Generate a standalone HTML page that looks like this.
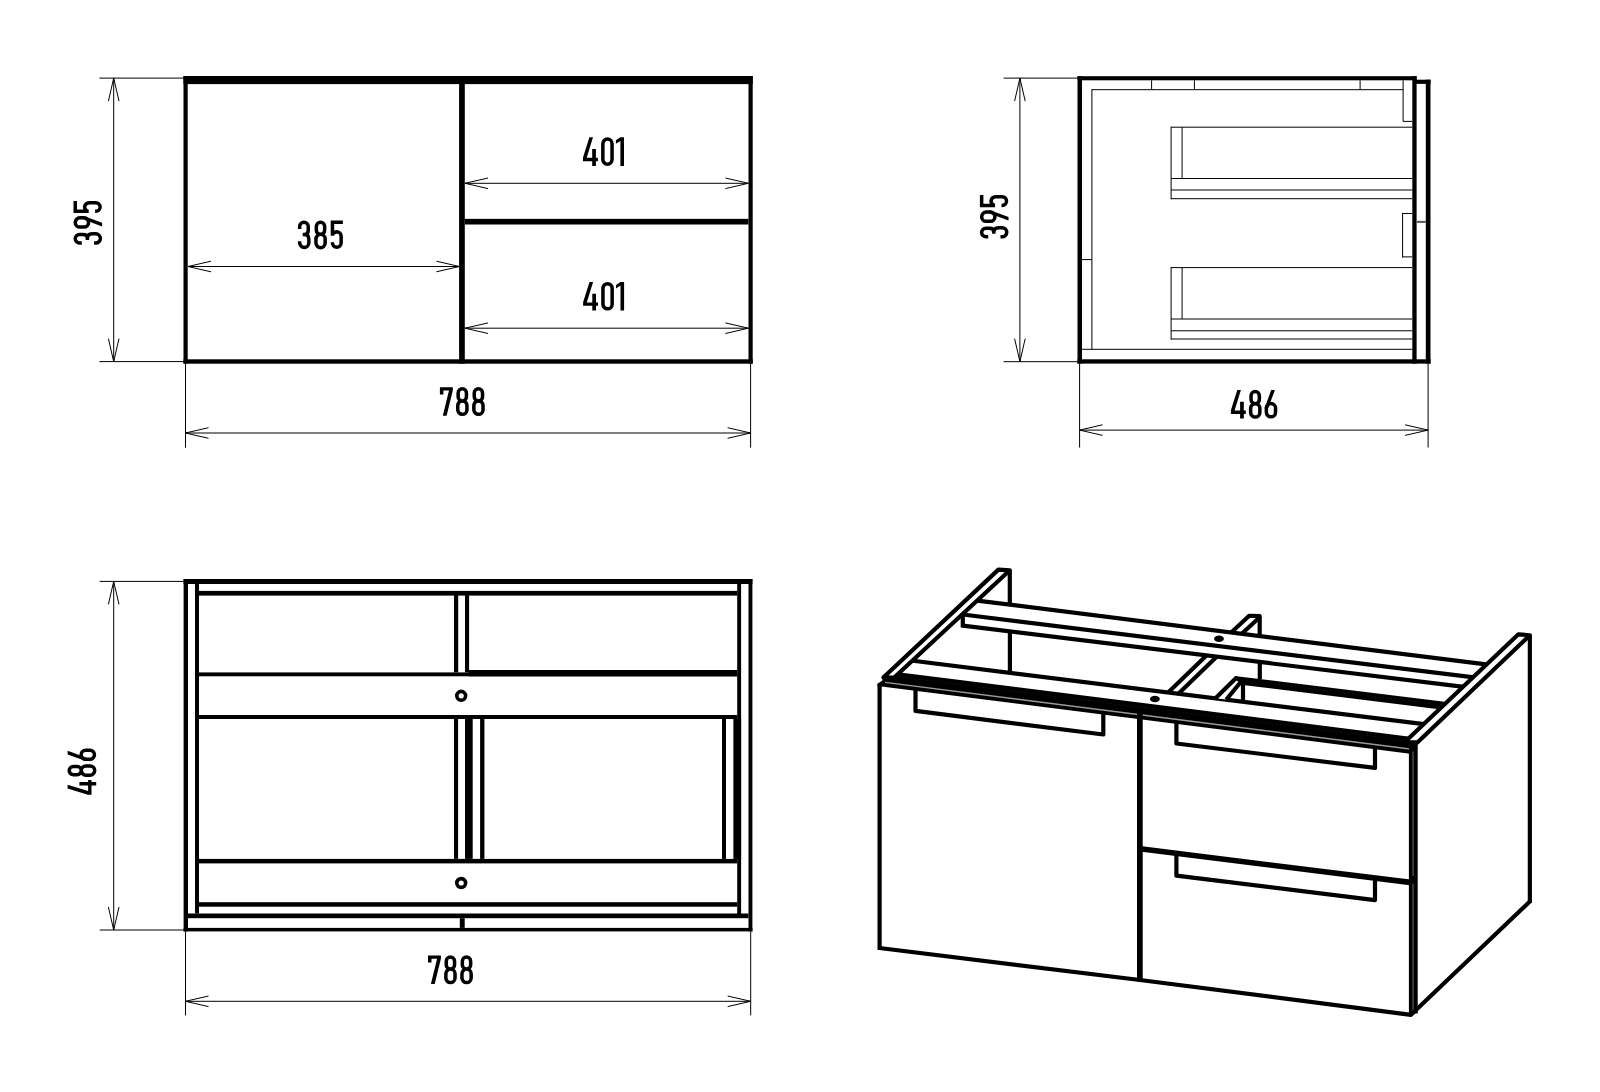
<!DOCTYPE html><html><head><meta charset="utf-8"><style>html,body{margin:0;padding:0;background:#fff;}body{width:1600px;height:1092px;overflow:hidden;font-family:"Liberation Sans",sans-serif;}svg{display:block;}</style></head><body>
<svg width="1600" height="1092" viewBox="0 0 1600 1092">
<rect width="1600" height="1092" fill="#fff"/>
<rect x="183.50" y="76.00" width="4.20" height="287.60" fill="#000"/>
<rect x="748.50" y="76.00" width="4.20" height="287.60" fill="#000"/>
<rect x="183.50" y="76.00" width="569.20" height="8.10" fill="#000"/>
<rect x="183.50" y="359.30" width="569.20" height="4.40" fill="#000"/>
<rect x="459.10" y="76.00" width="5.70" height="287.60" fill="#000"/>
<rect x="464.80" y="218.85" width="283.70" height="5.65" fill="#000"/>
<line x1="99.40" y1="78.10" x2="184.00" y2="78.10" stroke="#000" stroke-width="1.0" />
<line x1="99.40" y1="361.60" x2="184.00" y2="361.60" stroke="#000" stroke-width="1.0" />
<line x1="113.70" y1="78.10" x2="113.70" y2="361.60" stroke="#000" stroke-width="1.0" />
<path d="M119.00,101.10 L113.70,78.10 L108.40,101.10" stroke="#000" stroke-width="1.0" fill="none" stroke-linejoin="miter"/>
<path d="M108.40,338.60 L113.70,361.60 L119.00,338.60" stroke="#000" stroke-width="1.0" fill="none" stroke-linejoin="miter"/>
<line x1="185.50" y1="363.50" x2="185.50" y2="447.70" stroke="#000" stroke-width="1.0" />
<line x1="750.60" y1="363.50" x2="750.60" y2="447.70" stroke="#000" stroke-width="1.0" />
<line x1="185.50" y1="433.00" x2="750.60" y2="433.00" stroke="#000" stroke-width="1.0" />
<path d="M208.50,427.70 L185.50,433.00 L208.50,438.30" stroke="#000" stroke-width="1.0" fill="none" stroke-linejoin="miter"/>
<path d="M727.60,438.30 L750.60,433.00 L727.60,427.70" stroke="#000" stroke-width="1.0" fill="none" stroke-linejoin="miter"/>
<line x1="188.00" y1="266.50" x2="459.40" y2="266.50" stroke="#000" stroke-width="1.0" />
<path d="M211.00,261.20 L188.00,266.50 L211.00,271.80" stroke="#000" stroke-width="1.0" fill="none" stroke-linejoin="miter"/>
<path d="M436.40,271.80 L459.40,266.50 L436.40,261.20" stroke="#000" stroke-width="1.0" fill="none" stroke-linejoin="miter"/>
<line x1="465.00" y1="183.30" x2="748.40" y2="183.30" stroke="#000" stroke-width="1.0" />
<path d="M488.00,178.00 L465.00,183.30 L488.00,188.60" stroke="#000" stroke-width="1.0" fill="none" stroke-linejoin="miter"/>
<path d="M725.40,188.60 L748.40,183.30 L725.40,178.00" stroke="#000" stroke-width="1.0" fill="none" stroke-linejoin="miter"/>
<line x1="465.00" y1="328.20" x2="748.40" y2="328.20" stroke="#000" stroke-width="1.0" />
<path d="M488.00,322.90 L465.00,328.20 L488.00,333.50" stroke="#000" stroke-width="1.0" fill="none" stroke-linejoin="miter"/>
<path d="M725.40,333.50 L748.40,328.20 L725.40,322.90" stroke="#000" stroke-width="1.0" fill="none" stroke-linejoin="miter"/>
<g transform="translate(73.50,244.80) rotate(-90)">
<g transform="translate(0.00,0)"><path d="M1.75,8.3 V6.05 A4.3,4.3 0 0 1 10.35,6.05 V9.6 Q10.35,13.9 6.3,13.9 H4.8 M4.8,13.9 H6.3 Q10.95,13.9 10.95,18.6 V22.25 A4.6,4.6 0 0 1 1.75,22.25 V20.6" fill="none" stroke="#000" stroke-width="3.5"/></g>
<g transform="translate(16.00,0)"><g transform="rotate(180 6.35 14.3)"><path d="M1.75,18.15 A4.6,4.6 0 0 1 10.95,18.15 V22.25 A4.6,4.6 0 0 1 1.75,22.25 Z" fill="none" stroke="#000" stroke-width="3.5"/><path d="M6.6,0 L10.3,0 L3.5,18.3 L0,18.3 Z" fill="#000"/></g></g>
<g transform="translate(31.70,0)"><path d="M12.2,1.75 H1.75 V15.2 M1.75,14.2 C2.8,12.0 4.4,11.1 6.35,11.1 A4.6,4.6 0 0 1 10.45,15.7 V22.25 A4.35,4.35 0 0 1 1.75,22.25 V21.6" fill="none" stroke="#000" stroke-width="3.5"/></g>
</g>
<g transform="translate(297.90,220.60)"><path d="M1.75,8.3 V6.05 A4.3,4.3 0 0 1 10.35,6.05 V9.6 Q10.35,13.9 6.3,13.9 H4.8 M4.8,13.9 H6.3 Q10.95,13.9 10.95,18.6 V22.25 A4.6,4.6 0 0 1 1.75,22.25 V20.6" fill="none" stroke="#000" stroke-width="3.5"/></g>
<g transform="translate(314.20,220.60)"><path d="M2.15,5.75 A4.15,4.15 0 0 1 10.45,5.75 V9.55 A4.15,4.15 0 0 1 2.15,9.55 Z M1.75,18.3 A4.6,4.6 0 0 1 10.95,18.3 V22.5 A4.6,4.6 0 0 1 1.75,22.5 Z" fill="none" stroke="#000" stroke-width="3.5"/></g>
<g transform="translate(330.70,220.60)"><path d="M12.2,1.75 H1.75 V15.2 M1.75,14.2 C2.8,12.0 4.4,11.1 6.35,11.1 A4.6,4.6 0 0 1 10.45,15.7 V22.25 A4.35,4.35 0 0 1 1.75,22.25 V21.6" fill="none" stroke="#000" stroke-width="3.5"/></g>
<g transform="translate(583.00,137.30)"><path d="M6.4,0 L10.0,0 L3.7,20.5 L9.2,20.5 L9.2,11.8 L12.9,11.8 L12.9,20.5 L14.9,20.5 L14.9,23.9 L12.9,23.9 L12.9,28.6 L9.2,28.6 L9.2,23.9 L0,23.9 L0,20.3 Z" fill="#000"/></g>
<g transform="translate(601.10,137.30)"><path d="M1.75,6.35 A4.6,4.6 0 0 1 10.95,6.35 V22.25 A4.6,4.6 0 0 1 1.75,22.25 Z" fill="none" stroke="#000" stroke-width="3.5"/></g>
<g transform="translate(615.90,137.30)"><path d="M0,3 L4.5,0 L8.1,0 L8.1,28.6 L4.5,28.6 L4.5,3.7 L0,6.5 Z" fill="#000"/></g>
<g transform="translate(583.10,281.90)"><path d="M6.4,0 L10.0,0 L3.7,20.5 L9.2,20.5 L9.2,11.8 L12.9,11.8 L12.9,20.5 L14.9,20.5 L14.9,23.9 L12.9,23.9 L12.9,28.6 L9.2,28.6 L9.2,23.9 L0,23.9 L0,20.3 Z" fill="#000"/></g>
<g transform="translate(601.20,281.90)"><path d="M1.75,6.35 A4.6,4.6 0 0 1 10.95,6.35 V22.25 A4.6,4.6 0 0 1 1.75,22.25 Z" fill="none" stroke="#000" stroke-width="3.5"/></g>
<g transform="translate(616.00,281.90)"><path d="M0,3 L4.5,0 L8.1,0 L8.1,28.6 L4.5,28.6 L4.5,3.7 L0,6.5 Z" fill="#000"/></g>
<g transform="translate(439.90,387.20)"><path d="M0,0 L12.9,0 L12.9,3.4 L6.7,28.6 L2.9,28.6 L9.1,3.4 L3.5,3.4 L3.5,7.2 L0,7.2 Z" fill="#000"/></g>
<g transform="translate(456.00,387.20)"><path d="M2.15,5.75 A4.15,4.15 0 0 1 10.45,5.75 V9.55 A4.15,4.15 0 0 1 2.15,9.55 Z M1.75,18.3 A4.6,4.6 0 0 1 10.95,18.3 V22.5 A4.6,4.6 0 0 1 1.75,22.5 Z" fill="none" stroke="#000" stroke-width="3.5"/></g>
<g transform="translate(472.10,387.20)"><path d="M2.15,5.75 A4.15,4.15 0 0 1 10.45,5.75 V9.55 A4.15,4.15 0 0 1 2.15,9.55 Z M1.75,18.3 A4.6,4.6 0 0 1 10.95,18.3 V22.5 A4.6,4.6 0 0 1 1.75,22.5 Z" fill="none" stroke="#000" stroke-width="3.5"/></g>
<rect x="1077.50" y="76.20" width="4.50" height="287.40" fill="#000"/>
<rect x="1077.50" y="76.20" width="339.10" height="4.10" fill="#000"/>
<rect x="1077.50" y="359.30" width="353.00" height="4.30" fill="#000"/>
<rect x="1412.30" y="76.20" width="4.30" height="287.40" fill="#000"/>
<rect x="1414.50" y="79.70" width="16.00" height="4.20" fill="#000"/>
<rect x="1425.80" y="79.70" width="4.70" height="283.90" fill="#000"/>
<line x1="1416.60" y1="221.90" x2="1425.90" y2="221.90" stroke="#5e5e5e" stroke-width="2.1" />
<line x1="1091.90" y1="89.70" x2="1403.10" y2="89.70" stroke="#000" stroke-width="1.0" />
<line x1="1091.90" y1="89.10" x2="1091.90" y2="349.30" stroke="#000" stroke-width="1.0" />
<line x1="1151.60" y1="80.30" x2="1151.60" y2="89.70" stroke="#000" stroke-width="1.0" />
<line x1="1194.40" y1="80.30" x2="1194.40" y2="89.70" stroke="#000" stroke-width="1.0" />
<line x1="1360.10" y1="80.30" x2="1360.10" y2="89.70" stroke="#000" stroke-width="1.0" />
<line x1="1403.10" y1="80.30" x2="1403.10" y2="121.40" stroke="#000" stroke-width="1.0" />
<line x1="1403.10" y1="121.40" x2="1412.30" y2="121.40" stroke="#000" stroke-width="1.0" />
<line x1="1171.10" y1="127.20" x2="1412.30" y2="127.20" stroke="#000" stroke-width="1.0" />
<line x1="1171.10" y1="126.60" x2="1171.10" y2="199.30" stroke="#000" stroke-width="1.0" />
<line x1="1182.10" y1="127.20" x2="1182.10" y2="178.50" stroke="#000" stroke-width="1.0" />
<line x1="1171.10" y1="178.50" x2="1412.30" y2="178.50" stroke="#000" stroke-width="1.0" />
<line x1="1171.10" y1="190.00" x2="1412.30" y2="190.00" stroke="#000" stroke-width="1.0" />
<line x1="1171.10" y1="198.70" x2="1412.30" y2="198.70" stroke="#000" stroke-width="1.0" />
<line x1="1171.10" y1="267.60" x2="1412.30" y2="267.60" stroke="#000" stroke-width="1.0" />
<line x1="1171.10" y1="267.00" x2="1171.10" y2="339.60" stroke="#000" stroke-width="1.0" />
<line x1="1182.10" y1="267.60" x2="1182.10" y2="319.00" stroke="#000" stroke-width="1.0" />
<line x1="1171.10" y1="319.00" x2="1412.30" y2="319.00" stroke="#000" stroke-width="1.0" />
<line x1="1171.10" y1="330.80" x2="1412.30" y2="330.80" stroke="#000" stroke-width="1.0" />
<line x1="1171.10" y1="339.00" x2="1412.30" y2="339.00" stroke="#000" stroke-width="1.0" />
<line x1="1402.60" y1="213.50" x2="1412.30" y2="213.50" stroke="#000" stroke-width="1.0" />
<line x1="1402.60" y1="256.90" x2="1412.30" y2="256.90" stroke="#000" stroke-width="1.0" />
<line x1="1402.60" y1="212.90" x2="1402.60" y2="257.50" stroke="#000" stroke-width="1.0" />
<line x1="1082.00" y1="349.30" x2="1412.30" y2="349.30" stroke="#000" stroke-width="1.0" />
<line x1="1082.00" y1="259.60" x2="1091.90" y2="259.60" stroke="#000" stroke-width="1.0" />
<line x1="1003.60" y1="78.10" x2="1077.50" y2="78.10" stroke="#000" stroke-width="1.0" />
<line x1="1003.60" y1="361.70" x2="1077.50" y2="361.70" stroke="#000" stroke-width="1.0" />
<line x1="1019.90" y1="78.10" x2="1019.90" y2="361.70" stroke="#000" stroke-width="1.0" />
<path d="M1025.20,101.10 L1019.90,78.10 L1014.60,101.10" stroke="#000" stroke-width="1.0" fill="none" stroke-linejoin="miter"/>
<path d="M1014.60,338.70 L1019.90,361.70 L1025.20,338.70" stroke="#000" stroke-width="1.0" fill="none" stroke-linejoin="miter"/>
<line x1="1079.60" y1="363.60" x2="1079.60" y2="447.50" stroke="#000" stroke-width="1.0" />
<line x1="1428.10" y1="363.60" x2="1428.10" y2="447.50" stroke="#000" stroke-width="1.0" />
<line x1="1079.60" y1="430.10" x2="1428.10" y2="430.10" stroke="#000" stroke-width="1.0" />
<path d="M1102.60,424.80 L1079.60,430.10 L1102.60,435.40" stroke="#000" stroke-width="1.0" fill="none" stroke-linejoin="miter"/>
<path d="M1405.10,435.40 L1428.10,430.10 L1405.10,424.80" stroke="#000" stroke-width="1.0" fill="none" stroke-linejoin="miter"/>
<g transform="translate(979.90,238.60) rotate(-90)">
<g transform="translate(0.00,0)"><path d="M1.75,8.3 V6.05 A4.3,4.3 0 0 1 10.35,6.05 V9.6 Q10.35,13.9 6.3,13.9 H4.8 M4.8,13.9 H6.3 Q10.95,13.9 10.95,18.6 V22.25 A4.6,4.6 0 0 1 1.75,22.25 V20.6" fill="none" stroke="#000" stroke-width="3.5"/></g>
<g transform="translate(15.60,0)"><g transform="rotate(180 6.35 14.3)"><path d="M1.75,18.15 A4.6,4.6 0 0 1 10.95,18.15 V22.25 A4.6,4.6 0 0 1 1.75,22.25 Z" fill="none" stroke="#000" stroke-width="3.5"/><path d="M6.6,0 L10.3,0 L3.5,18.3 L0,18.3 Z" fill="#000"/></g></g>
<g transform="translate(31.40,0)"><path d="M12.2,1.75 H1.75 V15.2 M1.75,14.2 C2.8,12.0 4.4,11.1 6.35,11.1 A4.6,4.6 0 0 1 10.45,15.7 V22.25 A4.35,4.35 0 0 1 1.75,22.25 V21.6" fill="none" stroke="#000" stroke-width="3.5"/></g>
</g>
<g transform="translate(1230.90,390.00)"><path d="M6.4,0 L10.0,0 L3.7,20.5 L9.2,20.5 L9.2,11.8 L12.9,11.8 L12.9,20.5 L14.9,20.5 L14.9,23.9 L12.9,23.9 L12.9,28.6 L9.2,28.6 L9.2,23.9 L0,23.9 L0,20.3 Z" fill="#000"/></g>
<g transform="translate(1248.90,390.00)"><path d="M2.15,5.75 A4.15,4.15 0 0 1 10.45,5.75 V9.55 A4.15,4.15 0 0 1 2.15,9.55 Z M1.75,18.3 A4.6,4.6 0 0 1 10.95,18.3 V22.5 A4.6,4.6 0 0 1 1.75,22.5 Z" fill="none" stroke="#000" stroke-width="3.5"/></g>
<g transform="translate(1264.60,390.00)"><path d="M1.75,18.15 A4.6,4.6 0 0 1 10.95,18.15 V22.25 A4.6,4.6 0 0 1 1.75,22.25 Z" fill="none" stroke="#000" stroke-width="3.5"/><path d="M6.6,0 L10.3,0 L3.5,18.3 L0,18.3 Z" fill="#000"/></g>
<rect x="183.60" y="579.00" width="4.40" height="352.40" fill="#000"/>
<rect x="748.50" y="579.00" width="3.90" height="352.40" fill="#000"/>
<rect x="183.60" y="579.00" width="568.80" height="5.00" fill="#000"/>
<rect x="183.60" y="927.90" width="568.80" height="3.50" fill="#000"/>
<rect x="195.00" y="584.00" width="4.00" height="329.50" fill="#000"/>
<rect x="737.20" y="584.00" width="3.90" height="331.00" fill="#000"/>
<rect x="199.00" y="590.90" width="538.20" height="4.70" fill="#000"/>
<rect x="199.00" y="672.40" width="538.20" height="3.90" fill="#000"/>
<rect x="469.00" y="670.00" width="268.20" height="6.30" fill="#000"/>
<rect x="199.00" y="715.00" width="538.20" height="4.00" fill="#000"/>
<rect x="199.00" y="858.90" width="538.20" height="4.50" fill="#000"/>
<rect x="199.00" y="902.20" width="538.20" height="4.50" fill="#000"/>
<rect x="188.00" y="913.50" width="560.50" height="4.70" fill="#000"/>
<rect x="454.00" y="595.10" width="4.20" height="77.30" fill="#000"/>
<rect x="465.00" y="595.10" width="4.10" height="77.30" fill="#000"/>
<rect x="454.00" y="719.00" width="4.10" height="139.90" fill="#000"/>
<rect x="465.00" y="719.00" width="7.70" height="139.90" fill="#000"/>
<rect x="480.10" y="719.00" width="4.30" height="139.90" fill="#000"/>
<rect x="722.00" y="719.00" width="4.00" height="139.90" fill="#000"/>
<rect x="733.40" y="719.00" width="7.70" height="139.90" fill="#000"/>
<rect x="459.80" y="918.20" width="4.90" height="9.70" fill="#000"/>
<circle cx="461.2" cy="695.8" r="4.4" fill="none" stroke="#000" stroke-width="3.6"/>
<circle cx="461.2" cy="883.0" r="4.4" fill="none" stroke="#000" stroke-width="3.6"/>
<line x1="99.70" y1="581.40" x2="183.60" y2="581.40" stroke="#000" stroke-width="1.0" />
<line x1="99.70" y1="930.00" x2="183.60" y2="930.00" stroke="#000" stroke-width="1.0" />
<line x1="113.70" y1="581.40" x2="113.70" y2="930.00" stroke="#000" stroke-width="1.0" />
<path d="M119.00,604.40 L113.70,581.40 L108.40,604.40" stroke="#000" stroke-width="1.0" fill="none" stroke-linejoin="miter"/>
<path d="M108.40,907.00 L113.70,930.00 L119.00,907.00" stroke="#000" stroke-width="1.0" fill="none" stroke-linejoin="miter"/>
<line x1="185.50" y1="931.40" x2="185.50" y2="1015.40" stroke="#000" stroke-width="1.0" />
<line x1="750.70" y1="931.40" x2="750.70" y2="1015.40" stroke="#000" stroke-width="1.0" />
<line x1="185.50" y1="1001.30" x2="750.70" y2="1001.30" stroke="#000" stroke-width="1.0" />
<path d="M208.50,996.00 L185.50,1001.30 L208.50,1006.60" stroke="#000" stroke-width="1.0" fill="none" stroke-linejoin="miter"/>
<path d="M727.70,1006.60 L750.70,1001.30 L727.70,996.00" stroke="#000" stroke-width="1.0" fill="none" stroke-linejoin="miter"/>
<g transform="translate(67.60,794.80) rotate(-90)">
<g transform="translate(0.00,0)"><path d="M6.4,0 L10.0,0 L3.7,20.5 L9.2,20.5 L9.2,11.8 L12.9,11.8 L12.9,20.5 L14.9,20.5 L14.9,23.9 L12.9,23.9 L12.9,28.6 L9.2,28.6 L9.2,23.9 L0,23.9 L0,20.3 Z" fill="#000"/></g>
<g transform="translate(17.90,0)"><path d="M2.15,5.75 A4.15,4.15 0 0 1 10.45,5.75 V9.55 A4.15,4.15 0 0 1 2.15,9.55 Z M1.75,18.3 A4.6,4.6 0 0 1 10.95,18.3 V22.5 A4.6,4.6 0 0 1 1.75,22.5 Z" fill="none" stroke="#000" stroke-width="3.5"/></g>
<g transform="translate(33.70,0)"><path d="M1.75,18.15 A4.6,4.6 0 0 1 10.95,18.15 V22.25 A4.6,4.6 0 0 1 1.75,22.25 Z" fill="none" stroke="#000" stroke-width="3.5"/><path d="M6.6,0 L10.3,0 L3.5,18.3 L0,18.3 Z" fill="#000"/></g>
</g>
<g transform="translate(428.00,955.40)"><path d="M0,0 L12.9,0 L12.9,3.4 L6.7,28.6 L2.9,28.6 L9.1,3.4 L3.5,3.4 L3.5,7.2 L0,7.2 Z" fill="#000"/></g>
<g transform="translate(444.10,955.40)"><path d="M2.15,5.75 A4.15,4.15 0 0 1 10.45,5.75 V9.55 A4.15,4.15 0 0 1 2.15,9.55 Z M1.75,18.3 A4.6,4.6 0 0 1 10.95,18.3 V22.5 A4.6,4.6 0 0 1 1.75,22.5 Z" fill="none" stroke="#000" stroke-width="3.5"/></g>
<g transform="translate(460.20,955.40)"><path d="M2.15,5.75 A4.15,4.15 0 0 1 10.45,5.75 V9.55 A4.15,4.15 0 0 1 2.15,9.55 Z M1.75,18.3 A4.6,4.6 0 0 1 10.95,18.3 V22.5 A4.6,4.6 0 0 1 1.75,22.5 Z" fill="none" stroke="#000" stroke-width="3.5"/></g>
<path d="M975.00,600.31 L1490.00,664.94" stroke="#000" stroke-width="4.2" fill="none" stroke-linejoin="miter"/>
<path d="M962.80,614.50 L1478.00,677.92" stroke="#000" stroke-width="4.2" fill="none" stroke-linejoin="miter"/>
<path d="M962.80,613.00 L962.80,625.70 L1468.00,687.44" stroke="#000" stroke-width="4.2" fill="none" stroke-linejoin="miter"/>
<path d="M905.00,659.76 L1430.00,724.86" stroke="#000" stroke-width="4.2" fill="none" stroke-linejoin="miter"/>
<path d="M1168.16,692.39 L1206.41,655.47" stroke="#000" stroke-width="4.2" fill="none" stroke-linejoin="miter"/>
<path d="M1178.38,693.66 L1216.64,656.72" stroke="#000" stroke-width="4.2" fill="none" stroke-linejoin="miter"/>
<path d="M1231.19,632.46 L1249.2,615.8 L1259.7,616.0 L1259.7,636.04 M1241.73,633.78 L1259.7,617.3" fill="none" stroke="#000" stroke-width="4.2" stroke-linejoin="round"/>
<path d="M1259.80,661.99 L1259.80,679.00" stroke="#000" stroke-width="4.2" fill="none" stroke-linejoin="miter"/>
<path d="M1009.90,631.46 L1009.90,672.77" stroke="#000" stroke-width="4.2" fill="none" stroke-linejoin="miter"/>
<path d="M1234.40,675.90 L1444.50,701.80 L1437.00,709.00 L1244.90,685.20 L1241.00,682.00 Z" fill="#000"/>
<line x1="1252" y1="681.6" x2="1436" y2="704.2" stroke="#1c1c1c" stroke-width="0.9" stroke-dasharray="0.9 1.9"/>
<path d="M1215.51,698.26 L1236.1,678.1 L1241.6,681.0 L1226.27,699.60" fill="#fff" stroke="#000" stroke-width="4.2" stroke-linejoin="round"/>
<path d="M1243.00,683.00 L1243.00,701.67" stroke="#000" stroke-width="4.2" fill="none" stroke-linejoin="miter"/>
<ellipse cx="1219.0" cy="638.7" rx="4.9" ry="3.2" fill="#000"/>
<ellipse cx="1154.9" cy="699.0" rx="4.9" ry="3.2" fill="#000"/>
<path d="M890.09,671.19 L1412.00,736.95 L1412.00,753.90 L877.50,686.02 L877.50,683.70 L882.40,680.40 L882.40,675.60 Z" fill="#000"/>
<line x1="894.09" y1="676.10" x2="1405" y2="740.47" stroke="#1c1c1c" stroke-width="0.9" stroke-dasharray="0.9 1.9"/>
<line x1="885.00" y1="682.38" x2="1410.00" y2="749.05" stroke="#9a9a9a" stroke-width="1.4" />
<path d="M883.37,677.50 L998.4,569.6 L1009.8,570.3 L894.22,677.50 Z" fill="#fff" stroke="#000" stroke-width="4.2" stroke-linejoin="round"/>
<path d="M1009.80,570.30 L1009.80,604.68" stroke="#000" stroke-width="4.2" fill="none" stroke-linejoin="miter"/>
<path d="M1404.33,742.50 L1518.4,634.3 L1529.85,635.3 L1417.36,742.50 Z" fill="#fff" stroke="#000" stroke-width="4.2" stroke-linejoin="round"/>
<rect x="877.50" y="683.70" width="4.20" height="266.30" fill="#000"/>
<rect x="1408.90" y="740.50" width="8.80" height="273.00" fill="#000"/>
<line x1="1413.00" y1="751.60" x2="1413.00" y2="876.00" stroke="#555" stroke-width="1.3" />
<line x1="1413.00" y1="883.80" x2="1413.00" y2="1011.00" stroke="#555" stroke-width="1.3" />
<rect x="1137.00" y="712.00" width="5.70" height="269.50" fill="#000"/>
<path d="M879.50,948.00 L1140.00,980.00 L1411.00,1014.80 L1529.80,901.50" stroke="#000" stroke-width="4.2" fill="none" stroke-linejoin="round"/>
<path d="M1529.85,635.30 L1529.85,903.00" stroke="#000" stroke-width="4.2" fill="none" stroke-linejoin="miter"/>
<path d="M1140.00,848.80 L1412.00,882.60" stroke="#000" stroke-width="5.6" fill="none" stroke-linejoin="miter"/>
<path d="M915.50,689.85 L915.50,710.90 L1103.30,734.50 L1103.30,713.70" stroke="#000" stroke-width="4.2" fill="none" stroke-linejoin="round"/>
<path d="M1176.40,722.98 L1176.40,743.50 L1375.00,767.90 L1375.00,748.21" stroke="#000" stroke-width="4.2" fill="none" stroke-linejoin="round"/>
<path d="M1176.40,853.50 L1176.40,875.70 L1375.00,900.10 L1375.00,878.50" stroke="#000" stroke-width="4.2" fill="none" stroke-linejoin="round"/>
</svg></body></html>
